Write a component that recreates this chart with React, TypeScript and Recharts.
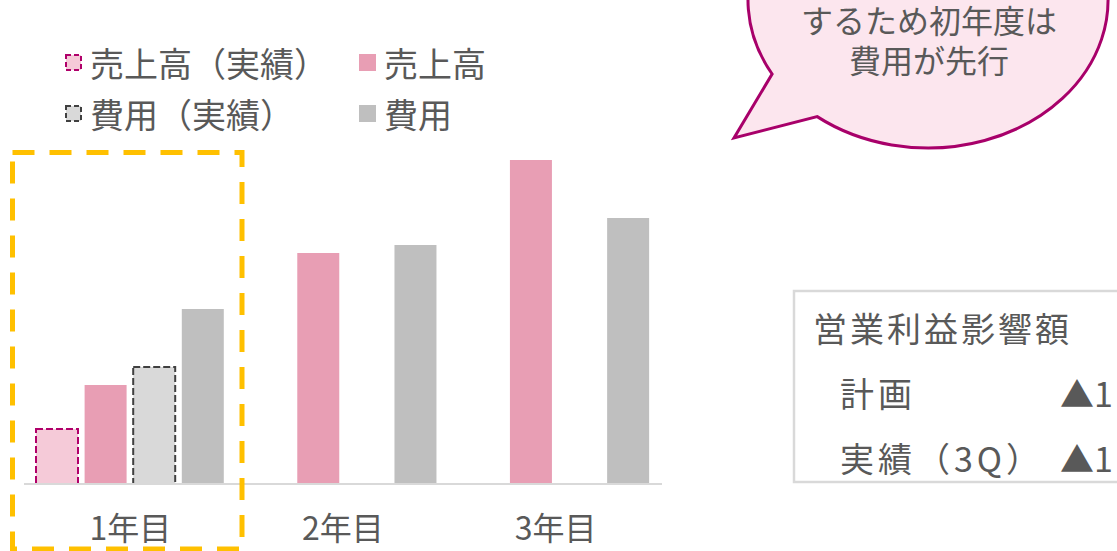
import React from 'react';
import { BarChart, Bar, XAxis, YAxis, Legend } from 'recharts';

const categories = ['1年目', '2年目', '3年目'];
const salesActual = [55, null, null];
const salesPlan = [99, 231, 324];
const costActual = [117, null, null];
const costPlan = [175, 239, 266];

const seriesNames = ['売上高（実績）', '売上高', '費用（実績）', '費用'];
const bubbleLines = ['するため初年度は', '費用が先行'];
const tableTitle = '営業利益影響額';
const tableRowLabels = ['計画', '実績（3Q）'];
const tableRowValues = ['▲1', '▲1'];

const data = categories.map((c, i) => ({
  name: c,
  salesActual: salesActual[i],
  salesPlan: salesPlan[i],
  costActual: costActual[i],
  costPlan: costPlan[i],
}));

const FONT = '"Noto Sans CJK JP", "Noto Sans", sans-serif';
const TEXT = '#595959';

const seriesStyles = [
  { fill: '#F5CAD8', stroke: '#B0006A', dashed: true },
  { fill: '#E89EB4', stroke: 'none', dashed: false },
  { fill: '#D9D9D9', stroke: '#404040', dashed: true },
  { fill: '#BFBFBF', stroke: 'none', dashed: false },
];

const LegendContent = () => (
  <div
    style={{
      display: 'grid',
      gridTemplateColumns: '294px 200px',
      gridAutoRows: '51px',
      fontFamily: FONT,
    }}
  >
    {seriesNames.map((n, i) => {
      const s = seriesStyles[i];
      return (
        <div key={n} style={{ display: 'flex', alignItems: 'center' }}>
          <svg width={17} height={17} style={{ marginRight: 8, flex: 'none' }}>
            {s.dashed ? (
              <rect x={1} y={1} width={15} height={15} fill={s.fill} stroke={s.stroke} strokeWidth={2} strokeDasharray="5 3" />
            ) : (
              <rect x={0} y={0} width={17} height={17} fill={s.fill} />
            )}
          </svg>
          <span style={{ fontSize: 34, color: TEXT, lineHeight: 1, whiteSpace: 'nowrap' }}>{n}</span>
        </div>
      );
    })}
  </div>
);

function bubblePath() {
  const cx = 928, cy = 0, rx = 180, ry = 148;
  const a1 = (150 * Math.PI) / 180;
  const a2 = (128 * Math.PI) / 180;
  const p1x = cx + rx * Math.cos(a1), p1y = cy + ry * Math.sin(a1);
  const p2x = cx + rx * Math.cos(a2), p2y = cy + ry * Math.sin(a2);
  return `M ${p2x} ${p2y} A ${rx} ${ry} 0 1 0 ${p1x} ${p1y} L 734 138 Z`;
}

export default function App() {
  return (
    <div style={{ position: 'absolute', left: 0, top: 0, width: 1117, height: 551, background: '#fff', fontFamily: FONT, overflow: 'hidden' }}>
      <BarChart
        width={1117}
        height={551}
        data={data}
        margin={{ top: 144, right: 455, bottom: 0, left: 24 }}
        barSize={42}
        barGap={6.6}
      >
        <XAxis
          dataKey="name"
          axisLine={{ stroke: '#D9D9D9', strokeWidth: 2 }}
          tickLine={false}
          tick={{ fill: TEXT, fontSize: 32, fontFamily: FONT }}
          tickMargin={27}
          height={67}
          interval={0}
        />
        <YAxis hide domain={[0, 340]} />
        <Legend
          layout="vertical"
          align="center"
          verticalAlign="middle"
          content={<LegendContent />}
          wrapperStyle={{ top: 37, left: 65, width: 520 }}
        />
        {(['salesActual', 'salesPlan', 'costActual', 'costPlan'] as const).map((k, i) => {
          const s = seriesStyles[i];
          return (
            <Bar
              key={k}
              dataKey={k}
              name={seriesNames[i]}
              fill={s.fill}
              stroke={s.dashed ? s.stroke : undefined}
              strokeWidth={s.dashed ? 2 : 0}
              strokeDasharray={s.dashed ? '7 3' : undefined}
              isAnimationActive={false}
            />
          );
        })}
      </BarChart>
      <svg width={1117} height={551} style={{ position: 'absolute', left: 0, top: 0, pointerEvents: 'none' }}>
        <rect x={12.5} y={152.5} width={229.5} height={396.5} fill="none" stroke="#FFC000" strokeWidth={5} strokeDasharray="22 15" />
        <path d={bubblePath()} fill="#FCE6EE" stroke="#A8006A" strokeWidth={3} strokeLinejoin="miter" />
        <text textAnchor="middle" fontSize={32} fill={TEXT} fontFamily={FONT}>
          {bubbleLines.map((t, i) => (
            <tspan key={t} x={929} y={33 + i * 40}>
              {t}
            </tspan>
          ))}
        </text>
        <rect x={794} y={291} width={400} height={191} fill="#fff" stroke="#D9D9D9" strokeWidth={2.5} />
        <text x={813} y={327} dominantBaseline="central" fontSize={34} letterSpacing={3} fill={TEXT} fontFamily={FONT}>
          {tableTitle}
        </text>
        {tableRowLabels.map((t, i) => (
          <g key={t}>
            <text x={840} y={392 + i * 65} dominantBaseline="central" fontSize={34} letterSpacing={4} fill={TEXT} fontFamily={FONT}>
              {t}
            </text>
            <text x={1060} y={392 + i * 65} dominantBaseline="central" fontSize={34} fill={TEXT} fontFamily={FONT}>
              {tableRowValues[i]}
            </text>
          </g>
        ))}
      </svg>
    </div>
  );
}
